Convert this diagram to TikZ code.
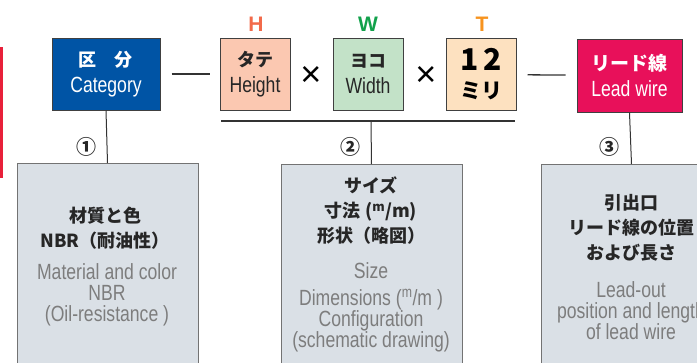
\documentclass[tikz,border=0pt]{standalone}
\usepackage{fontspec}
\setmainfont{Liberation Sans}
\newfontfamily\cond[FakeStretch=0.8]{Liberation Sans}
\newfontfamily\jp{Noto Sans CJK JP}
\usetikzlibrary{positioning}
\definecolor{catblue}{RGB}{0,84,165}
\definecolor{hsalmon}{RGB}{251,200,177}
\definecolor{wgreen}{RGB}{195,226,200}
\definecolor{tpeach}{RGB}{253,225,192}
\definecolor{leadred}{RGB}{232,16,90}
\definecolor{infogray}{RGB}{218,224,230}
\definecolor{engray}{RGB}{125,125,125}
\definecolor{hcol}{RGB}{242,106,74}
\definecolor{wcol}{RGB}{18,161,75}
\definecolor{tcol}{RGB}{247,147,30}
\definecolor{barred}{RGB}{232,32,58}

\begin{document}
\begin{tikzpicture}[
  x=1pt, y=-1pt,
  every node/.style={align=center, inner sep=0pt},
  topbox/.style={draw=black!75, line width=1pt, minimum width=70pt, minimum height=72pt,
    font=\cond\fontsize{22}{26}\selectfont},
  infobox/.style={draw=black!55, line width=1pt, fill=infogray, minimum width=181pt,
    minimum height=240pt, anchor=north},
  jptxt/.style={font=\jp\bfseries\fontsize{18}{25}\selectfont, text=black!85},
  entxt/.style={font=\cond\fontsize{22}{21}\selectfont, text=engray},
  letter/.style={font=\bfseries\fontsize{21}{21}\selectfont},
  link/.style={line width=1pt, black!80},
  num/.style={font=\jp\bfseries\fontsize{20}{20}\selectfont, text=black!85}
]
\useasboundingbox (0,0) rectangle (697,362);
\clip (0,0) rectangle (697,362);
\fill[barred] (0,47) rectangle (3,178);
% top row
\node[topbox, fill=catblue, minimum width=108pt, text=white] (C) at (106,74)
  {{\jp\bfseries\fontsize{18}{18}\selectfont 区\hspace{1em}分}\\Category};
\node[topbox, fill=hsalmon, text=black!85] (H) at (255,74)
  {{\jp\bfseries\fontsize{18}{18}\selectfont タテ}\\Height};
\node[topbox, fill=wgreen, text=black!85] (W) at (368,74)
  {{\jp\bfseries\fontsize{18}{18}\selectfont ヨコ}\\Width};
\node[topbox, fill=tpeach, text=black, font=\jp\bfseries\fontsize{21}{28}\selectfont] (T) at (481,74.5)
  {{\fontsize{30}{30}\selectfont 1\,2}\\ミリ};
\node[topbox, fill=leadred, minimum width=105pt, minimum height=73pt, text=white] (L) at (629.5,75.5)
  {{\jp\bfseries\fontsize{19}{19}\selectfont リード線}\\Lead wire};
\node[letter, text=hcol] (Hl) at (256,24) {H};
\node[letter, text=wcol] (Wl) at (368,24) {W};
\node[letter, text=tcol] (Tl) at (482,24) {T};
\node[font=\fontsize{36}{36}\selectfont] (x1) at (311,76) {×};
\node[font=\fontsize{36}{36}\selectfont] (x2) at (426,76) {×};
\draw[link, line width=1.3pt, shorten <=11pt, shorten >=10pt] (C) -- (H);
\draw[link, line width=1.3pt, shorten <=11pt, shorten >=11pt] (T) -- (L);
\coordinate (ULa) at (221,121);
\coordinate (ULb) at (515,121);
\coordinate (ULm) at (371,121);
\draw[link, line width=1.3pt] (ULa) -- (ULb);
% lower boxes
\node[infobox] (B1) at (107.5,163) {};
\node[infobox] (B2) at (371.5,164) {};
\node[infobox] (B3) at (631.5,164) {};
\draw[link] (C.south) -- (B1.north);
\draw[link] (ULm) -- (B2.north);
\draw[link] (L.south) -- (B3.north);
\node[num] (n1) at (86,147) {①};
\node[num] (n2) at (350,147) {②};
\node[num] (n3) at (609,147) {③};
% texts
\node[jptxt] (B1jp) at (105,228) {材質と色\\NBR（耐油性）};
\node[entxt] (B1en) at (107,295) {Material and color\\NBR\\(Oil-resistance )};
\node[jptxt] (B2jp) at (371,211) {サイズ\\寸法 (\textsuperscript{m}/m)\\形状（略図）};
\node[entxt] (B2en) at (371,307) {Size\\[6pt]Dimensions (\textsuperscript{m}/m )\\Configuration\\(schematic drawing)};
\node[jptxt] (B3jp) at (631,228) {引出口\\リード線の位置\\および長さ};
\node[entxt] (B3en) at (631,311) {Lead-out\\position and length\\of lead wire};
\end{tikzpicture}
\end{document}
